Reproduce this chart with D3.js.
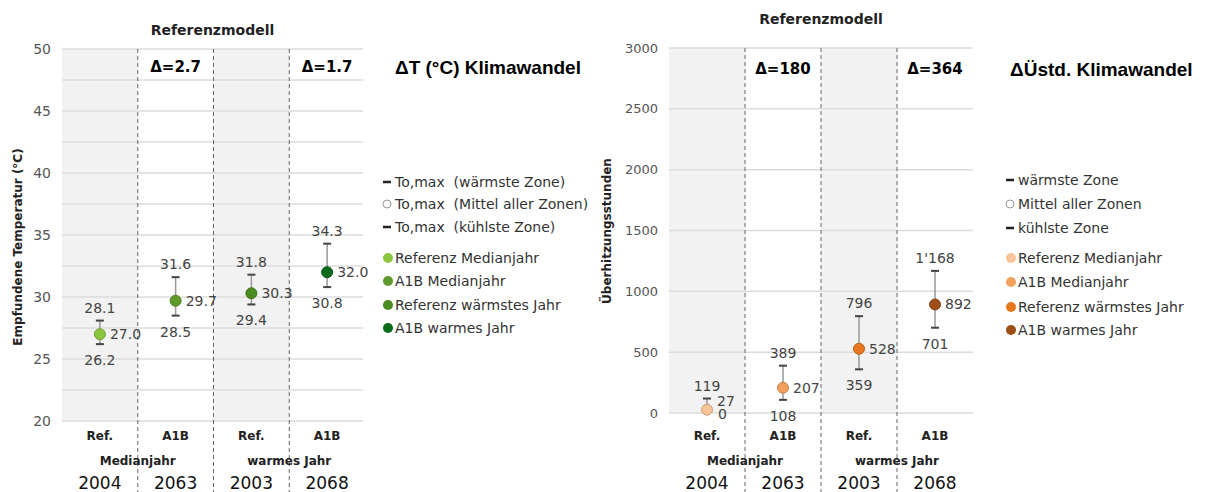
<!DOCTYPE html>
<html>
<head>
<meta charset="utf-8">
<script src="https://cdn.jsdelivr.net/npm/d3@7"></script>
<style>
  body { margin: 0; background: #fff; }
  svg { display: block; font-family: "DejaVu Sans", Verdana, sans-serif; }
  text { white-space: pre; }
</style>
</head>
<body>
<svg id="chart" width="1205" height="492"></svg>
<script>
// categories (shared by both panels)
const columns = ["Ref.", "A1B", "Ref.", "A1B"];
const years = ["2004", "2063", "2003", "2068"];
const groups = ["Medianjahr", "warmes Jahr"];

// left panel: perceived temperature
const tempMean = [27.0, 29.7, 30.3, 32.0];
const tempMax = [28.1, 31.6, 31.8, 34.3];
const tempMin = [26.2, 28.5, 29.4, 30.8];
const tempDeltas = ["Δ=2.7", "Δ=1.7"];
const tempTicks = [20, 25, 30, 35, 40, 45, 50];
const tempGrid = [20, 22.5, 25, 27.5, 30, 32.5, 35, 37.5, 40, 42.5, 45, 47.5, 50];
const tempColors = ["#8cc63f", "#5f9a2a", "#4a8a20", "#0b6b1a"];
const tempLegendTop = ["To,max  (wärmste Zone)", "To,max  (Mittel aller Zonen)", "To,max  (kühlste Zone)"];

// right panel: overheating hours
const hoursMean = [27, 207, 528, 892];
const hoursMax = [119, 389, 796, 1168];
const hoursMin = [0, 108, 359, 701];
const hoursDeltas = ["Δ=180", "Δ=364"];
const hoursTicks = [0, 500, 1000, 1500, 2000, 2500, 3000];
const hoursColors = ["#f8c598", "#f2a05c", "#e8781e", "#9e4f17"];
const hoursLegendTop = ["wärmste Zone", "Mittel aller Zonen", "kühlste Zone"];

const seriesNames = ["Referenz Medianjahr", "A1B Medianjahr", "Referenz wärmstes Jahr", "A1B warmes Jahr"];

const svg = d3.select("#chart");
const swiss = d3.formatLocale({ decimal: ".", thousands: "'", grouping: [3], currency: ["", ""] });

function drawPanel(cfg) {
    const top = cfg.top, bottom = cfg.bottom;
    const g = svg.append("g");

    const x = d3.scaleBand().domain(d3.range(columns.length)).range(cfg.xRange);
    const y = d3.scaleLinear().domain(cfg.domain).range([bottom, top]);
    const left = cfg.xRange[0], right = cfg.plotRight;

    // grey bands for the reference columns
    g.selectAll(".band")
        .data([0, 2])
        .enter().append("rect")
        .attr("x", d => x(d))
        .attr("y", top)
        .attr("width", x.bandwidth())
        .attr("height", bottom - top)
        .attr("fill", "#f2f2f2");

    // gridlines
    g.selectAll(".grid")
        .data(cfg.grid)
        .enter().append("line")
        .attr("x1", left).attr("x2", right)
        .attr("y1", d => y(d)).attr("y2", d => y(d))
        .attr("stroke", "#dcdcdc")
        .attr("stroke-width", 1.5);

    // y tick labels
    g.selectAll(".tick")
        .data(cfg.ticks)
        .enter().append("text")
        .attr("x", left - 11)
        .attr("y", d => y(d))
        .attr("dy", "0.35em")
        .attr("text-anchor", "end")
        .attr("font-size", cfg.tickSize)
        .attr("fill", "#555")
        .text(d => d);

    // dashed column dividers
    g.selectAll(".divider")
        .data([1, 2, 3])
        .enter().append("line")
        .attr("x1", d => x(d)).attr("x2", d => x(d))
        .attr("y1", top).attr("y2", 492)
        .attr("stroke", "#666")
        .attr("stroke-dasharray", "4,3");

    // y axis title
    g.append("text")
        .attr("transform", `translate(${cfg.yTitleX},${cfg.yTitleY}) rotate(-90)`)
        .attr("text-anchor", "middle")
        .attr("dy", "0.35em")
        .attr("font-size", 12)
        .attr("font-weight", "bold")
        .attr("fill", "#222")
        .text(cfg.yTitle);

    // panel title
    g.append("text")
        .attr("x", (left + right) / 2)
        .attr("y", cfg.titleY)
        .attr("text-anchor", "middle")
        .attr("font-size", 14)
        .attr("font-weight", "bold")
        .attr("fill", "#222")
        .text("Referenzmodell");

    // deltas above the A1B columns
    g.selectAll(".delta")
        .data(cfg.deltas)
        .enter().append("text")
        .attr("x", (d, i) => x(i * 2 + 1) + x.bandwidth() / 2)
        .attr("y", cfg.deltaY)
        .attr("text-anchor", "middle")
        .attr("font-size", 15)
        .attr("font-weight", "bold")
        .attr("fill", "#000")
        .text(d => d);

    // heading next to the plot
    g.append("text")
        .attr("x", cfg.headX)
        .attr("y", cfg.deltaY + 2)
        .attr("font-family", "'Liberation Sans', Arial, sans-serif")
        .attr("font-size", 19)
        .attr("font-weight", "bold")
        .attr("fill", "#000")
        .text(cfg.heading);

    // bottom category labels
    g.selectAll(".cat")
        .data(columns)
        .enter().append("text")
        .attr("x", (d, i) => x(i) + x.bandwidth() / 2)
        .attr("y", 440)
        .attr("text-anchor", "middle")
        .attr("font-size", 12)
        .attr("font-weight", "bold")
        .attr("fill", "#222")
        .text(d => d);

    g.selectAll(".group")
        .data(groups)
        .enter().append("text")
        .attr("x", (d, i) => x(i * 2 + 1))
        .attr("y", 465)
        .attr("text-anchor", "middle")
        .attr("font-size", 12)
        .attr("font-weight", "bold")
        .attr("fill", "#222")
        .text(d => d);

    g.selectAll(".year")
        .data(years)
        .enter().append("text")
        .attr("x", (d, i) => x(i) + x.bandwidth() / 2)
        .attr("y", 489)
        .attr("text-anchor", "middle")
        .attr("font-size", 17)
        .attr("fill", "#111")
        .text(d => d);

    // error bars + points
    const pts = cfg.mean.map((m, i) => ({ i, mean: m, max: cfg.max[i], min: cfg.min[i], color: cfg.colors[i] }));
    const cx = d => x(d.i) + x.bandwidth() / 2;
    const pg = g.selectAll(".pt").data(pts).enter().append("g");

    pg.append("line")
        .attr("x1", cx).attr("x2", cx)
        .attr("y1", d => y(d.max)).attr("y2", d => y(d.min))
        .attr("stroke", "#999").attr("stroke-width", 1.5);
    ["max", "min"].forEach(k => {
        pg.append("line")
            .attr("x1", d => cx(d) - 4).attr("x2", d => cx(d) + 4)
            .attr("y1", d => y(d[k])).attr("y2", d => y(d[k]))
            .attr("stroke", "#444").attr("stroke-width", 2);
    });
    pg.append("circle")
        .attr("cx", cx).attr("cy", d => y(d.mean))
        .attr("r", 5.5)
        .attr("fill", d => d.color)
        .attr("stroke", d => d3.color(d.color).darker(0.6))
        .attr("stroke-width", 1);

    // value labels
    const lab = sel => sel.attr("font-size", 14).attr("fill", "#444");
    // min label goes to the right when the whisker sits on the axis floor
    const tight = d => y(d.min) + 8 > bottom;

    pg.append("text").call(lab)
        .attr("x", cx).attr("y", d => y(d.max) - 8)
        .attr("text-anchor", "middle")
        .text(d => cfg.fmt(d.max));
    pg.append("text").call(lab)
        .attr("x", d => tight(d) ? cx(d) + 11 : cx(d))
        .attr("y", d => tight(d) ? y(d.min) + 1 : y(d.min) + 21)
        .attr("dy", d => tight(d) ? "0.35em" : 0)
        .attr("text-anchor", d => tight(d) ? "start" : "middle")
        .text(d => cfg.fmt(d.min));
    pg.append("text").call(lab)
        .attr("x", d => cx(d) + 10)
        .attr("y", d => y(d.mean) - (tight(d) ? 9 : 0))
        .attr("dy", "0.35em")
        .text(d => cfg.fmt(d.mean));

    // legend
    const lx = cfg.legendX;
    const lg = g.append("g").attr("font-size", 14).attr("fill", "#333");
    cfg.legendTop.forEach((t, i) => {
        const ly = cfg.legendY[i];
        if (i === 1) {
            lg.append("circle").attr("cx", lx + 5).attr("cy", ly).attr("r", 4)
                .attr("fill", "#fff").attr("stroke", "#999");
        } else {
            lg.append("line").attr("x1", lx + 1).attr("x2", lx + 9)
                .attr("y1", ly).attr("y2", ly).attr("stroke", "#222").attr("stroke-width", 2.5);
        }
        lg.append("text").attr("x", lx + 13).attr("y", ly).attr("dy", "0.35em").text(t);
    });
    seriesNames.forEach((t, i) => {
        const ly = cfg.legendY[i + 3];
        lg.append("circle").attr("cx", lx + 6).attr("cy", ly).attr("r", 5)
            .attr("fill", cfg.colors[i]);
        lg.append("text").attr("x", lx + 13).attr("y", ly).attr("dy", "0.35em").text(t);
    });
}

drawPanel({
    domain: [20, 50], top: 49, bottom: 421,
    xRange: [62, 365], plotRight: 363,
    ticks: tempTicks, grid: tempGrid, tickSize: 14,
    mean: tempMean, max: tempMax, min: tempMin, colors: tempColors,
    fmt: d3.format(".1f"),
    deltas: tempDeltas, deltaY: 72, titleY: 35,
    heading: "ΔT (°C) Klimawandel", headX: 395,
    yTitle: "Empfundene Temperatur (°C)", yTitleX: 18, yTitleY: 247,
    legendTop: tempLegendTop, legendX: 382,
    legendY: [182, 204, 227, 258, 281, 305, 328]
});

drawPanel({
    domain: [0, 3000], top: 48, bottom: 413,
    xRange: [669, 973], plotRight: 973,
    ticks: hoursTicks, grid: hoursTicks, tickSize: 13,
    mean: hoursMean, max: hoursMax, min: hoursMin, colors: hoursColors,
    fmt: swiss.format(",d"),
    deltas: hoursDeltas, deltaY: 74, titleY: 24,
    heading: "ΔÜstd. Klimawandel", headX: 1010,
    yTitle: "Überhitzungsstunden", yTitleX: 607, yTitleY: 231,
    legendTop: hoursLegendTop, legendX: 1005,
    legendY: [180, 204, 228, 258, 282, 307, 330]
});
</script>
</body>
</html>
